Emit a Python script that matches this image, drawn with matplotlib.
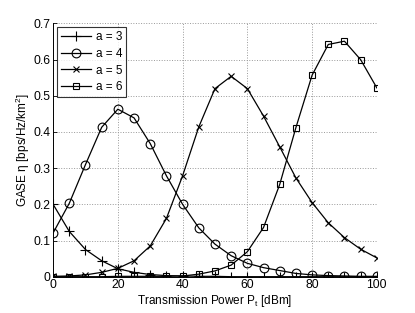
import matplotlib
matplotlib.use("Agg")
import matplotlib.pyplot as plt

plt.rcParams['font.family'] = ['Liberation Sans', 'DejaVu Sans']
plt.rcParams['mathtext.fontset'] = 'custom'
plt.rcParams['mathtext.rm'] = 'Liberation Sans'
plt.rcParams['mathtext.it'] = 'Liberation Sans'

power = [0, 5, 10, 15, 20, 25, 30, 35, 40, 45, 50, 55, 60, 65, 70, 75, 80, 85, 90, 95, 100]

a3 = [0.200, 0.125, 0.075, 0.044, 0.022, 0.012, 0.006, 0.003, 0.002, 0.001, 0.001,
      0.0, 0.0, 0.0, 0.0, 0.0, 0.0, 0.0, 0.0, 0.0, 0.0]
a4 = [0.121, 0.203, 0.310, 0.413, 0.463, 0.439, 0.368, 0.279, 0.200, 0.135, 0.090,
      0.058, 0.037, 0.025, 0.017, 0.009, 0.005, 0.003, 0.002, 0.001, 0.001]
a5 = [0.001, 0.002, 0.005, 0.012, 0.023, 0.044, 0.085, 0.161, 0.279, 0.414, 0.520,
      0.554, 0.520, 0.444, 0.359, 0.273, 0.205, 0.149, 0.108, 0.076, 0.052]
a6 = [0.0, 0.0, 0.0, 0.0, 0.001, 0.001, 0.001, 0.001, 0.002, 0.007, 0.016,
      0.032, 0.069, 0.136, 0.255, 0.412, 0.557, 0.642, 0.651, 0.600, 0.522]

labels = ['a = 3', 'a = 4', 'a = 5', 'a = 6']
x_ticks = [0, 20, 40, 60, 80, 100]
y_ticks = [0, 0.1, 0.2, 0.3, 0.4, 0.5, 0.6, 0.7]
y_ticklabels = ['0', '0.1', '0.2', '0.3', '0.4', '0.5', '0.6', '0.7']

fig = plt.figure(figsize=(4.15, 3.13), dpi=100)
ax = fig.add_axes([0.128, 0.116, 0.780, 0.809])

common = dict(color='black', lw=0.9, mfc='none', mec='black', mew=0.8)
ax.plot(power, a3, marker='+', ms=7, label=labels[0], **common)
ax.plot(power, a4, marker='o', ms=6.3, label=labels[1], **common)
ax.plot(power, a5, marker='x', ms=4.5, label=labels[2], **common)
ax.plot(power, a6, marker='s', ms=5, label=labels[3], **common)

ax.set_xlim(0, 100)
ax.set_ylim(0, 0.7)
ax.set_xticks(x_ticks)
ax.set_yticks(y_ticks)
ax.set_yticklabels(y_ticklabels)
ax.tick_params(direction='in', length=3, labelsize=8.7, width=0.6, pad=2)
ax.grid(True, linestyle=':', color='#999999', lw=0.7)
for s in ['top', 'right']:
    ax.spines[s].set_visible(False)
for s in ['left', 'bottom']:
    ax.spines[s].set_linewidth(0.7)

ax.set_xlabel('Transmission Power P$_\\mathregular{t}$ [dBm]', fontsize=8.5, labelpad=1)
ax.set_ylabel('GASE η [bps/Hz/km$^\\mathregular{2}$]', fontsize=8.5, labelpad=1)

leg = ax.legend(loc='upper left', fontsize=8.5, frameon=True, fancybox=False,
                edgecolor='black', handlelength=2.6, borderaxespad=0.3,
                borderpad=0.35, labelspacing=0.4, handletextpad=0.35)
leg.get_frame().set_linewidth(0.8)

fig.savefig('out.png', dpi=100)
